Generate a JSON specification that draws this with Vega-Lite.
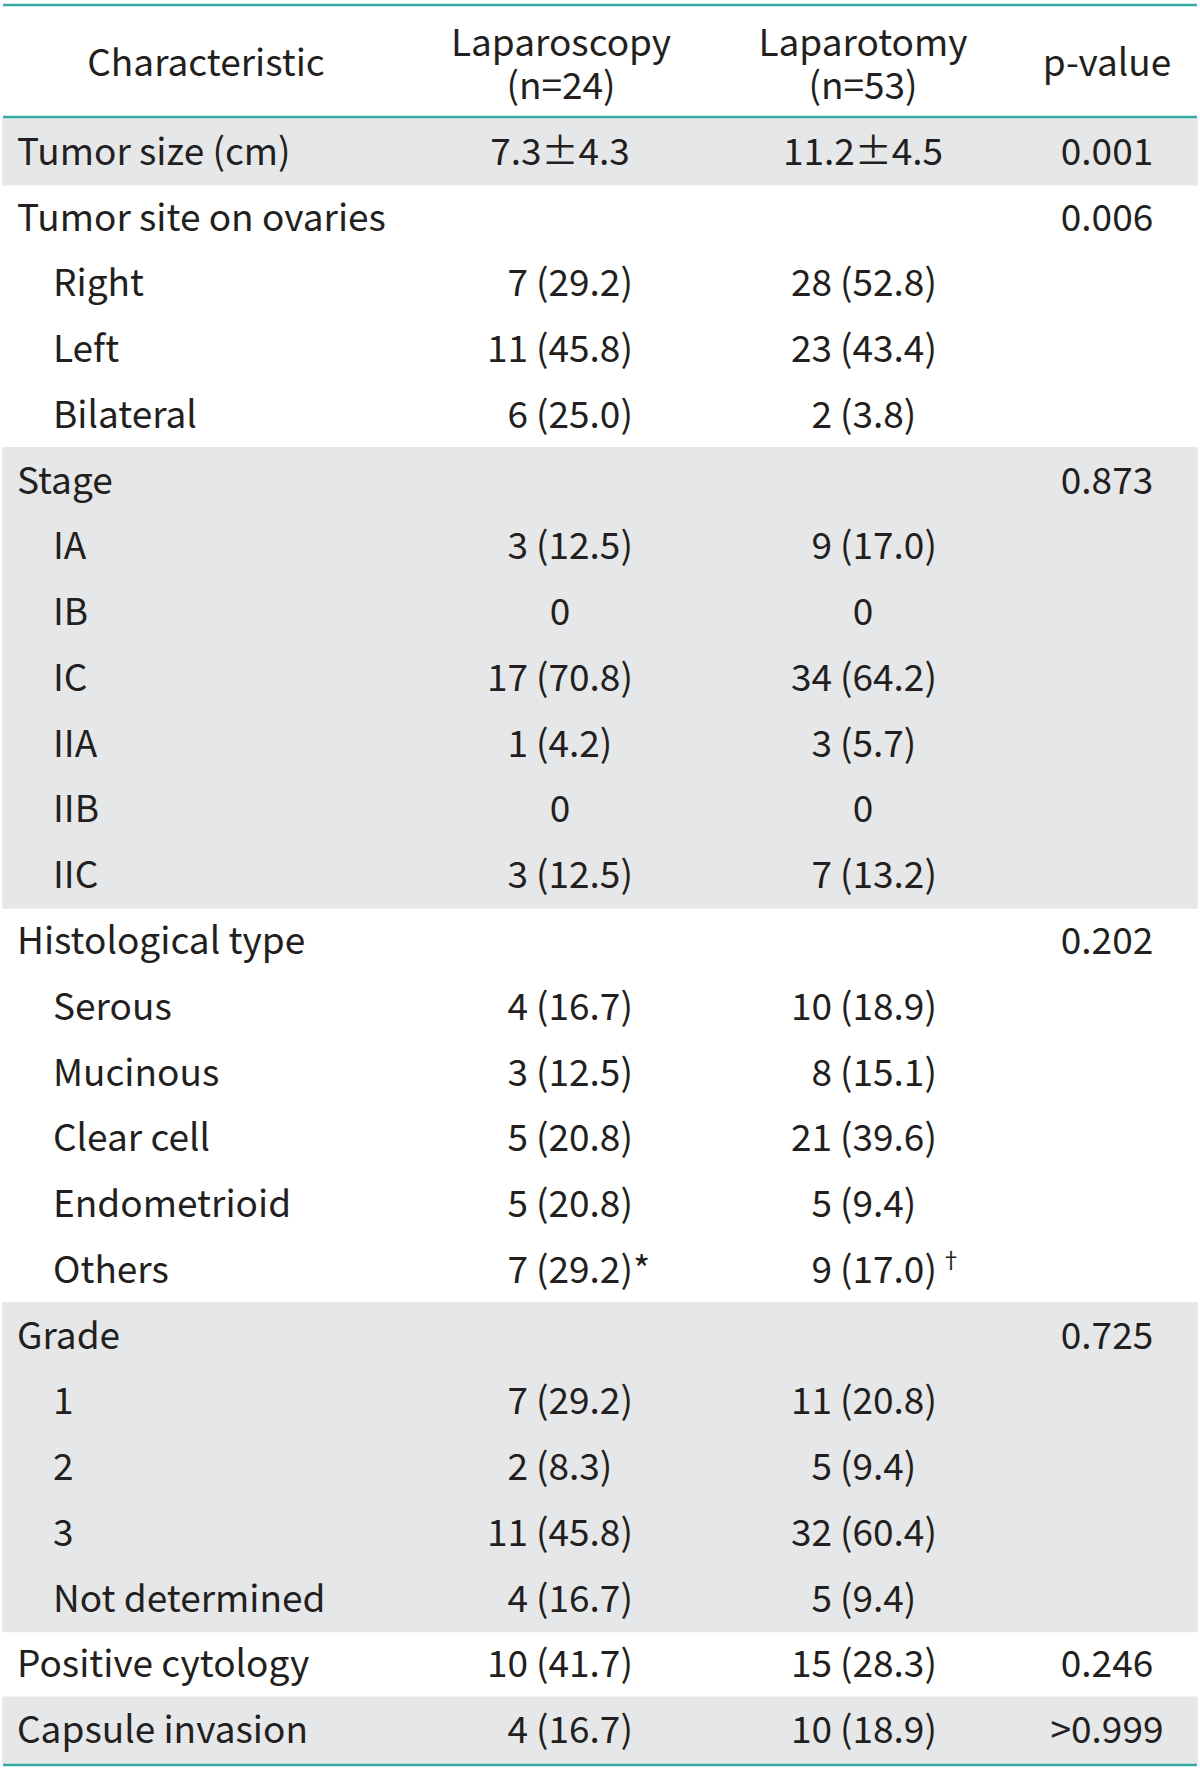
{
  "$schema": "https://vega.github.io/schema/vega-lite/v6.json",
  "width": 1200,
  "height": 1771,
  "padding": 0,
  "autosize": {"type": "none"},
  "background": "white",
  "config": {
    "view": {"stroke": null},
    "text": {"font": "Noto Sans CJK JP", "fontSize": 37, "color": "#231f20", "baseline": "alphabetic"}
  },
  "datasets": {
    "rows": [
      {"r": 0, "grp": 0, "level": 0, "label": "Tumor size (cm)", "lapC": "7.3±4.3", "ltoC": "11.2±4.5", "p": "0.001"},
      {"r": 1, "grp": 1, "level": 0, "label": "Tumor site on ovaries", "p": "0.006"},
      {"r": 2, "grp": 1, "level": 1, "label": "Right", "lapN": "7", "lapP": "(29.2)", "ltoN": "28", "ltoP": "(52.8)"},
      {"r": 3, "grp": 1, "level": 1, "label": "Left", "lapN": "11", "lapP": "(45.8)", "ltoN": "23", "ltoP": "(43.4)"},
      {"r": 4, "grp": 1, "level": 1, "label": "Bilateral", "lapN": "6", "lapP": "(25.0)", "ltoN": "2", "ltoP": "(3.8)"},
      {"r": 5, "grp": 2, "level": 0, "label": "Stage", "p": "0.873"},
      {"r": 6, "grp": 2, "level": 1, "label": "IA", "lapN": "3", "lapP": "(12.5)", "ltoN": "9", "ltoP": "(17.0)"},
      {"r": 7, "grp": 2, "level": 1, "label": "IB", "lapC": "0", "ltoC": "0"},
      {"r": 8, "grp": 2, "level": 1, "label": "IC", "lapN": "17", "lapP": "(70.8)", "ltoN": "34", "ltoP": "(64.2)"},
      {"r": 9, "grp": 2, "level": 1, "label": "IIA", "lapN": "1", "lapP": "(4.2)", "ltoN": "3", "ltoP": "(5.7)"},
      {"r": 10, "grp": 2, "level": 1, "label": "IIB", "lapC": "0", "ltoC": "0"},
      {"r": 11, "grp": 2, "level": 1, "label": "IIC", "lapN": "3", "lapP": "(12.5)", "ltoN": "7", "ltoP": "(13.2)"},
      {"r": 12, "grp": 3, "level": 0, "label": "Histological type", "p": "0.202"},
      {"r": 13, "grp": 3, "level": 1, "label": "Serous", "lapN": "4", "lapP": "(16.7)", "ltoN": "10", "ltoP": "(18.9)"},
      {"r": 14, "grp": 3, "level": 1, "label": "Mucinous", "lapN": "3", "lapP": "(12.5)", "ltoN": "8", "ltoP": "(15.1)"},
      {"r": 15, "grp": 3, "level": 1, "label": "Clear cell", "lapN": "5", "lapP": "(20.8)", "ltoN": "21", "ltoP": "(39.6)"},
      {"r": 16, "grp": 3, "level": 1, "label": "Endometrioid", "lapN": "5", "lapP": "(20.8)", "ltoN": "5", "ltoP": "(9.4)"},
      {"r": 17, "grp": 3, "level": 1, "label": "Others", "lapN": "7", "lapP": "(29.2)*", "ltoN": "9", "ltoP": "(17.0)", "ltoSup": "†"},
      {"r": 18, "grp": 4, "level": 0, "label": "Grade", "p": "0.725"},
      {"r": 19, "grp": 4, "level": 1, "label": "1", "lapN": "7", "lapP": "(29.2)", "ltoN": "11", "ltoP": "(20.8)"},
      {"r": 20, "grp": 4, "level": 1, "label": "2", "lapN": "2", "lapP": "(8.3)", "ltoN": "5", "ltoP": "(9.4)"},
      {"r": 21, "grp": 4, "level": 1, "label": "3", "lapN": "11", "lapP": "(45.8)", "ltoN": "32", "ltoP": "(60.4)"},
      {"r": 22, "grp": 4, "level": 1, "label": "Not determined", "lapN": "4", "lapP": "(16.7)", "ltoN": "5", "ltoP": "(9.4)"},
      {"r": 23, "grp": 5, "level": 0, "label": "Positive cytology", "lapN": "10", "lapP": "(41.7)", "ltoN": "15", "ltoP": "(28.3)", "p": "0.246"},
      {"r": 24, "grp": 6, "level": 0, "label": "Capsule invasion", "lapN": "4", "lapP": "(16.7)", "ltoN": "10", "ltoP": "(18.9)", "p": ">0.999"}
    ]
  },
  "data": {"name": "rows"},
  "layer": [
    {
      "transform": [{"filter": "datum.grp % 2 == 0"}],
      "mark": {"type": "rect", "color": "#e6e7e8", "stroke": "#e6e7e8", "strokeWidth": 1.5},
      "encoding": {
        "y": {"field": "r", "type": "ordinal", "axis": null, "scale": {"range": [119, 1763], "paddingInner": 0, "paddingOuter": 0}},
        "x": {"value": 3},
        "x2": {"value": 1197}
      }
    },
    {
      "data": {"values": [{}]},
      "mark": {"type": "rule", "color": "#35a9a2", "strokeWidth": 2.5},
      "encoding": {"y": {"value": 5}, "x": {"value": 3}, "x2": {"value": 1197}}
    },
    {
      "data": {"values": [{}]},
      "mark": {"type": "rule", "color": "#35a9a2", "strokeWidth": 2.5},
      "encoding": {"y": {"value": 117}, "x": {"value": 3}, "x2": {"value": 1197}}
    },
    {
      "data": {"values": [{}]},
      "mark": {"type": "rule", "color": "#35a9a2", "strokeWidth": 2.5},
      "encoding": {"y": {"value": 1765}, "x": {"value": 3}, "x2": {"value": 1197}}
    },
    {
      "data": {"values": [{}]},
      "mark": {"type": "text", "align": "center"},
      "encoding": {"x": {"value": 206}, "y": {"value": 76}, "text": {"value": "Characteristic"}}
    },
    {
      "data": {"values": [{}]},
      "mark": {"type": "text", "align": "center", "lineHeight": 43},
      "encoding": {"x": {"value": 561}, "y": {"value": 56}, "text": {"value": ["Laparoscopy", "(n=24)"]}}
    },
    {
      "data": {"values": [{}]},
      "mark": {"type": "text", "align": "center", "lineHeight": 43},
      "encoding": {"x": {"value": 863}, "y": {"value": 56}, "text": {"value": ["Laparotomy", "(n=53)"]}}
    },
    {
      "data": {"values": [{}]},
      "mark": {"type": "text", "align": "center"},
      "encoding": {"x": {"value": 1107}, "y": {"value": 76}, "text": {"value": "p-value"}}
    },
    {
      "transform": [{"filter": "datum.level == 0"}],
      "mark": {"type": "text", "align": "left", "dy": 13},
      "encoding": {
        "y": {"field": "r", "type": "ordinal", "axis": null, "bandPosition": 0.5},
        "x": {"value": 17},
        "text": {"field": "label"}
      }
    },
    {
      "transform": [{"filter": "datum.level == 1"}],
      "mark": {"type": "text", "align": "left", "dy": 13},
      "encoding": {
        "y": {"field": "r", "type": "ordinal", "axis": null, "bandPosition": 0.5},
        "x": {"value": 53},
        "text": {"field": "label"}
      }
    },
    {
      "transform": [{"filter": "isValid(datum.lapN)"}],
      "mark": {"type": "text", "align": "right", "dy": 13},
      "encoding": {
        "y": {"field": "r", "type": "ordinal", "axis": null, "bandPosition": 0.5},
        "x": {"value": 528},
        "text": {"field": "lapN"}
      }
    },
    {
      "transform": [{"filter": "isValid(datum.lapP)"}],
      "mark": {"type": "text", "align": "left", "dy": 13},
      "encoding": {
        "y": {"field": "r", "type": "ordinal", "axis": null, "bandPosition": 0.5},
        "x": {"value": 536},
        "text": {"field": "lapP"}
      }
    },
    {
      "transform": [{"filter": "isValid(datum.lapC)"}],
      "mark": {"type": "text", "align": "center", "dy": 13},
      "encoding": {
        "y": {"field": "r", "type": "ordinal", "axis": null, "bandPosition": 0.5},
        "x": {"value": 560},
        "text": {"field": "lapC"}
      }
    },
    {
      "transform": [{"filter": "isValid(datum.ltoN)"}],
      "mark": {"type": "text", "align": "right", "dy": 13},
      "encoding": {
        "y": {"field": "r", "type": "ordinal", "axis": null, "bandPosition": 0.5},
        "x": {"value": 832},
        "text": {"field": "ltoN"}
      }
    },
    {
      "transform": [{"filter": "isValid(datum.ltoP)"}],
      "mark": {"type": "text", "align": "left", "dy": 13},
      "encoding": {
        "y": {"field": "r", "type": "ordinal", "axis": null, "bandPosition": 0.5},
        "x": {"value": 840},
        "text": {"field": "ltoP"}
      }
    },
    {
      "transform": [{"filter": "isValid(datum.ltoC)"}],
      "mark": {"type": "text", "align": "center", "dy": 13},
      "encoding": {
        "y": {"field": "r", "type": "ordinal", "axis": null, "bandPosition": 0.5},
        "x": {"value": 863},
        "text": {"field": "ltoC"}
      }
    },
    {
      "transform": [{"filter": "isValid(datum.ltoSup)"}],
      "mark": {"type": "text", "align": "left", "dy": -2, "fontSize": 22},
      "encoding": {
        "y": {"field": "r", "type": "ordinal", "axis": null, "bandPosition": 0.5},
        "x": {"value": 940},
        "text": {"field": "ltoSup"}
      }
    },
    {
      "transform": [{"filter": "isValid(datum.p)"}],
      "mark": {"type": "text", "align": "center", "dy": 13},
      "encoding": {
        "y": {"field": "r", "type": "ordinal", "axis": null, "bandPosition": 0.5},
        "x": {"value": 1107},
        "text": {"field": "p"}
      }
    }
  ]
}
